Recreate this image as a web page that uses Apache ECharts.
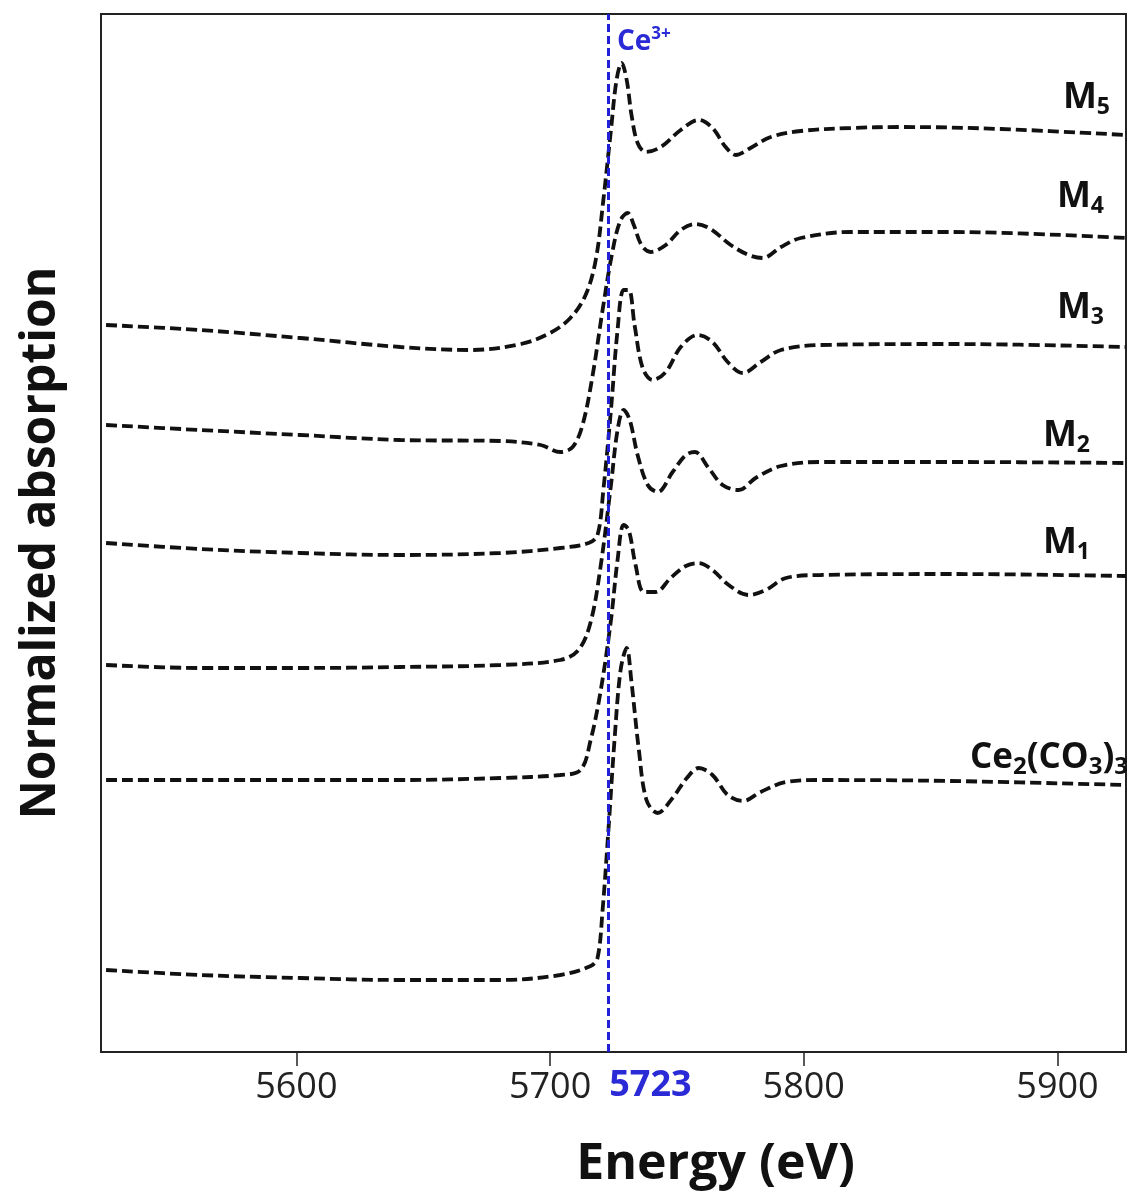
<!DOCTYPE html>
<html>
<head>
<meta charset="utf-8">
<title>Ce L3-edge XANES</title>
<script src="https://cdn.jsdelivr.net/npm/echarts@6/dist/echarts.min.js"></script>
<style>
  html, body { margin: 0; padding: 0; background: #ffffff; }
  #chart { width: 1128px; height: 1192px; }
</style>
</head>
<body>
<div id="chart"></div>
<script>
// Normalized XANES spectra (energy in eV, absorption stacked with vertical offsets)
const energyTicks = [5600, 5700, 5800, 5900];
const ce3Edge = 5723;

const specM5 = [
  [5525, 7.27], [5562, 7.22], [5601.5, 7.14], [5641, 7.05], [5668.5, 7.02], [5688.5, 7.08],
  [5700, 7.19], [5708, 7.34], [5714, 7.57], [5718, 7.92], [5721, 8.52], [5724, 9.22],
  [5726.2, 9.72], [5728.2, 9.89], [5730.2, 9.72], [5732.1, 9.37], [5734.5, 9.09], [5737.7, 9.00],
  [5743.6, 9.05], [5751.5, 9.22], [5758.6, 9.32], [5764, 9.24], [5769.2, 9.05], [5773.2, 8.97],
  [5779, 9.04], [5787, 9.15], [5798.8, 9.21], [5818.5, 9.24], [5838.3, 9.25], [5877.7, 9.23],
  [5927, 9.17]
];
const specM4 = [
  [5525, 6.27], [5562, 6.22], [5601.5, 6.17], [5641, 6.12], [5680.5, 6.11], [5696.3, 6.07],
  [5704, 6.00], [5708.9, 6.05], [5712.8, 6.27], [5716.8, 6.77], [5720.7, 7.42], [5724.7, 8.02],
  [5727.8, 8.32], [5730.6, 8.39], [5733, 8.27], [5736, 8.07], [5739.6, 8.00], [5745.6, 8.07],
  [5751.5, 8.22], [5757.4, 8.28], [5763.3, 8.23], [5771.2, 8.07], [5778.3, 7.97], [5783.8, 7.94],
  [5791, 8.05], [5798.8, 8.14], [5818.5, 8.20], [5858, 8.20], [5927, 8.14]
];
const specM3 = [
  [5525, 5.09], [5562, 5.03], [5601.5, 4.99], [5641, 4.97], [5680.5, 4.99], [5704, 5.04],
  [5715.2, 5.09], [5718.7, 5.17], [5721, 5.62], [5724, 6.42], [5726.6, 7.22], [5729, 7.62],
  [5731, 7.62], [5733.3, 7.27], [5736.5, 6.84], [5740.4, 6.72], [5745.6, 6.80], [5751.5, 7.05],
  [5758.2, 7.17], [5764, 7.10], [5770, 6.90], [5776, 6.79], [5783, 6.90], [5791, 7.02],
  [5806.7, 7.07], [5858, 7.08], [5927, 7.05]
];
const specM2 = [
  [5525, 3.87], [5562, 3.84], [5601.5, 3.84], [5641, 3.85], [5680.5, 3.87], [5704, 3.92],
  [5711.2, 4.02], [5716, 4.30], [5720, 4.87], [5724, 5.67], [5726.6, 6.22], [5729, 6.42],
  [5731.4, 6.32], [5734.5, 5.97], [5738.5, 5.67], [5742.4, 5.60], [5748.3, 5.80], [5753.5, 5.97],
  [5757, 6.00], [5762.5, 5.84], [5768, 5.67], [5774.4, 5.62], [5781, 5.74], [5791, 5.86],
  [5806.7, 5.90], [5858, 5.90], [5927, 5.89]
];
const specM1 = [
  [5525, 2.72], [5562, 2.72], [5601.5, 2.72], [5641, 2.72], [5680.5, 2.74], [5704, 2.77],
  [5712, 2.82], [5716, 3.12], [5720, 3.62], [5724, 4.32], [5726.6, 4.92], [5729, 5.27],
  [5731, 5.22], [5733.7, 4.87], [5737, 4.60], [5741.6, 4.60], [5747.5, 4.74], [5753.5, 4.86],
  [5758.6, 4.89], [5764, 4.82], [5770.4, 4.67], [5778.3, 4.57], [5785, 4.62], [5793, 4.74],
  [5806.7, 4.77], [5858, 4.78], [5927, 4.76]
];
const specCeCarbonate = [
  [5525, 0.82], [5562, 0.77], [5601.5, 0.74], [5641, 0.72], [5680.5, 0.72], [5704, 0.77],
  [5716, 0.86], [5718.7, 0.94], [5720.7, 1.42], [5723, 2.22], [5725.4, 3.12], [5727.8, 3.82],
  [5730.2, 4.04], [5732, 3.72], [5735, 3.02], [5738, 2.52], [5742.4, 2.39], [5748.3, 2.54],
  [5753.9, 2.74], [5758.6, 2.84], [5764, 2.77], [5770, 2.57], [5776, 2.51], [5783, 2.60],
  [5793, 2.70], [5806.7, 2.72], [5858, 2.71], [5927, 2.67]
];

const sampleNames = [
  ['M', '5'], ['M', '4'], ['M', '3'], ['M', '2'], ['M', '1'], null
];
const spectra = [specM5, specM4, specM3, specM2, specM1, specCeCarbonate];
// horizontal / vertical shift of each curve's right-hand name
const nameOffsets = [[-16, -16], [-22, -20], [-22, -18], [-36, -6], [-36, -12], [2, -6]];

const FONT = '"Open Sans", "DejaVu Sans", sans-serif';
const richLabel = {
  m:   { fontFamily: FONT, fontSize: 36, fontWeight: 'bold', color: '#111', lineHeight: 42 },
  s:   { fontFamily: FONT, fontSize: 23, fontWeight: 'bold', color: '#111', lineHeight: 42, verticalAlign: 'bottom', padding: [15, 0, 0, 0] },
  b:   { fontFamily: FONT, fontSize: 35, fontWeight: 'bold', color: '#111', lineHeight: 42 },
  bs:  { fontFamily: FONT, fontSize: 24, fontWeight: 'bold', color: '#111', lineHeight: 42, verticalAlign: 'bottom', padding: [15, 0, 0, 0] }
};

function nameFormatter(i) {
  const n = sampleNames[i];
  if (n) return '{m|' + n[0] + '}{s|' + n[1] + '}';
  return '{b|Ce}{bs|2}{b|(CO}{bs|3}{b|)}{bs|3}';
}

const series = spectra.map((d, i) => ({
  type: 'line',
  data: d,
  smooth: 0.35,
  showSymbol: false,
  symbol: 'none',
  silent: true,
  lineStyle: { color: '#111111', width: 3.8, type: [11, 5] },
  endLabel: {
    show: true,
    formatter: () => nameFormatter(i),
    rich: richLabel,
    align: 'right',
    verticalAlign: 'bottom',
    distance: 0,
    offset: nameOffsets[i]
  },
  z: 3
}));

// Ce3+ reference energy
series.push({
  type: 'line',
  data: [],
  markLine: {
    silent: true,
    symbol: ['none', 'none'],
    lineStyle: { color: '#2020d4', width: 3, type: [8, 4] },
    label: {
      show: true,
      position: 'start',
      formatter: String(ce3Edge),
      fontFamily: FONT,
      fontSize: 36,
      fontWeight: 'bold',
      color: '#2a2ad6',
      distance: 16,
      offset: [42, 0]
    },
    data: [{ xAxis: ce3Edge }]
  },
  markPoint: {
    silent: true,
    symbol: 'circle',
    symbolSize: 1,
    itemStyle: { color: 'rgba(0,0,0,0)' },
    label: {
      show: true,
      position: 'right',
      distance: 8,
      formatter: '{c|Ce}{sup|3+}',
      rich: {
        c:   { fontFamily: FONT, fontSize: 28, fontWeight: 'bold', color: '#2a2ad6', lineHeight: 32 },
        sup: { fontFamily: FONT, fontSize: 17, fontWeight: 'bold', color: '#2a2ad6', lineHeight: 32, verticalAlign: 'top', padding: [0, 0, 10, 0] }
      }
    },
    data: [{ coord: [ce3Edge, 10.1] }]
  },
  z: 4
});

const chart = echarts.init(document.getElementById('chart'), null, { renderer: 'canvas' });
chart.setOption({
  backgroundColor: '#ffffff',
  animation: false,
  grid: {
    left: 101, right: 2, top: 14, bottom: 140,
    containLabel: false,
    outerBoundsMode: 'none',
    show: true, borderColor: '#222', borderWidth: 2, backgroundColor: 'transparent'
  },
  xAxis: {
    type: 'value',
    min: 5523,
    max: 5927,
    name: 'Energy (eV)',
    nameLocation: 'middle',
    nameGap: 88,
    nameTextStyle: { fontFamily: FONT, fontSize: 50, fontWeight: 'bold', color: '#111', padding: [0, 0, 0, 204] },
    axisLine: { show: true, lineStyle: { color: '#222', width: 2 } },
    axisTick: { show: true, customValues: energyTicks, length: 14, inside: false, lineStyle: { color: '#222', width: 1.5 } },
    axisLabel: {
      show: true, customValues: energyTicks, margin: 18,
      formatter: (v) => String(v),
      fontFamily: FONT, fontSize: 36, color: '#222'
    },
    splitLine: { show: false }
  },
  yAxis: {
    type: 'value',
    min: 0,
    max: 10.38,
    name: 'Normalized absorption',
    nameLocation: 'middle',
    nameGap: 36,
    nameTextStyle: { fontFamily: FONT, fontSize: 48, fontWeight: 'bold', color: '#111', padding: [0, 20, 0, 0] },
    axisLine: { show: false },
    axisTick: { show: false },
    axisLabel: { show: false },
    splitLine: { show: false }
  },
  series: series
});
</script>
</body>
</html>
